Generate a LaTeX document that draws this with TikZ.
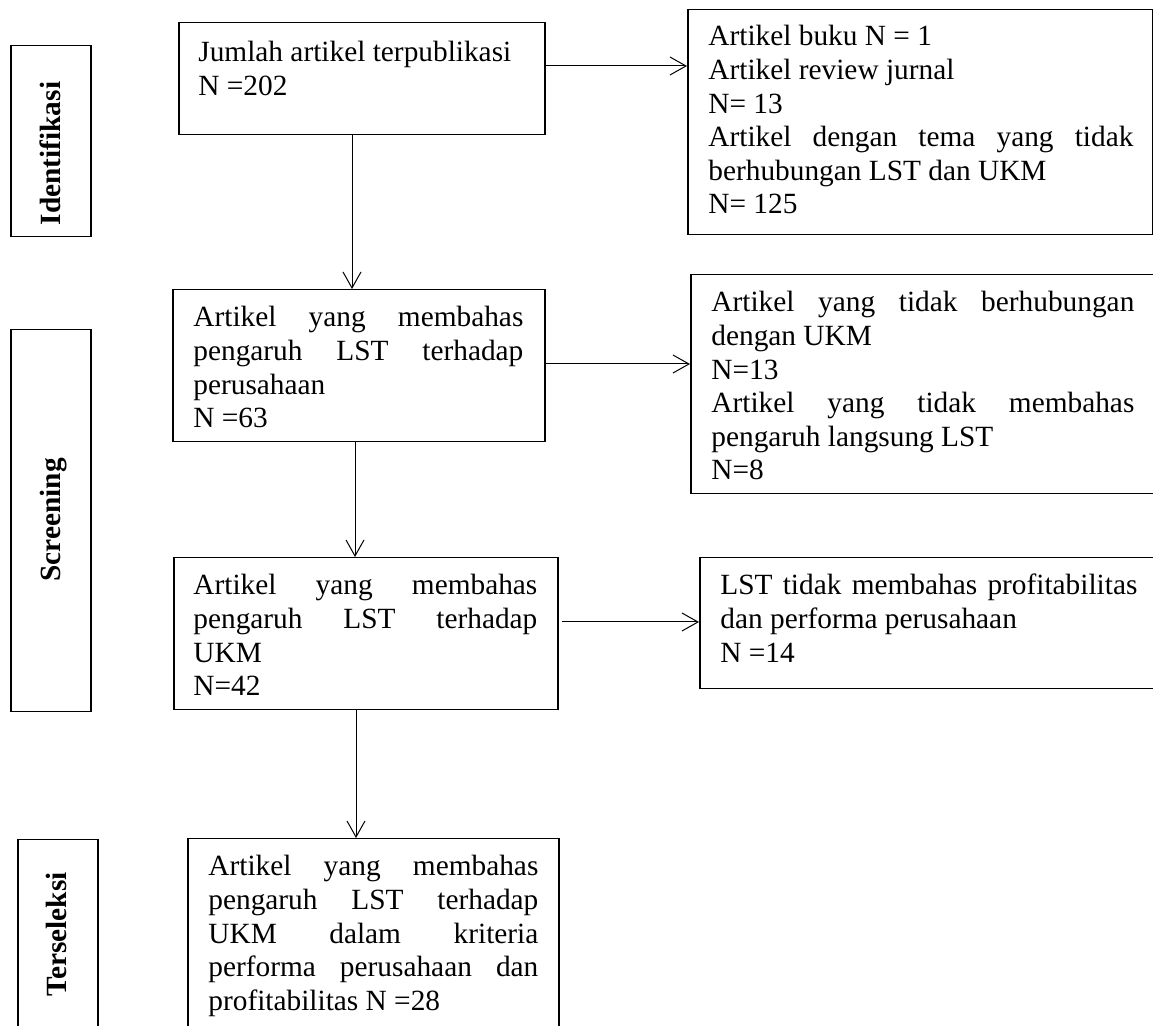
\documentclass[tikz,border=0pt]{standalone}
\usepackage{fontspec}
\setmainfont{Liberation Serif}
\usetikzlibrary{arrows.meta}
\tolerance=10000
\hbadness=10000
\hyphenpenalty=10000
\tikzset{
  boxnode/.style={draw, line width=0.75pt, inner sep=0pt, anchor=north west},
  txtnode/.style={inner sep=0pt, anchor=base west, align=justify, font=\fontsize{14.67pt}{16.8pt}\selectfont},
  sidelabel/.style={inner sep=0pt, anchor=base, rotate=90, font=\fontsize{14.67pt}{16.8pt}\selectfont\bfseries},
  arr/.style={line width=0.5pt, -{Straight Barb[length=8pt,width=9pt,line width=0.5pt]}}
}
\begin{document}
\begin{tikzpicture}[x=0.5pt,y=-0.5pt]
\useasboundingbox (0,0) rectangle (1153,1026);
% side boxes
\node[boxnode, minimum width=40pt, minimum height=95.5pt] (s1) at (10,45) {};
\node[boxnode, minimum width=40pt, minimum height=191pt] (s2) at (10,329) {};
\node[boxnode, minimum width=40pt, minimum height=100pt] (s3) at (17,839) {};
\node[sidelabel] (l1) at (61,153.5) {Identifikasi};
\node[sidelabel] (l2) at (61,520) {Screening};
\node[sidelabel] (l3) at (66,934.5) {Terseleksi};
% main boxes
\node[boxnode, minimum width=183pt, minimum height=56pt] (b1) at (178,22) {};
\node[boxnode, minimum width=232.5pt, minimum height=112.5pt] (b2) at (687,9) {};
\node[boxnode, minimum width=186pt, minimum height=76pt] (b3) at (172,289) {};
\node[boxnode, minimum width=240pt, minimum height=109.5pt] (b4) at (690,274) {};
\node[boxnode, minimum width=192pt, minimum height=76pt] (b5) at (173,557) {};
\node[boxnode, minimum width=235pt, minimum height=65.5pt] (b6) at (699,557) {};
\node[boxnode, minimum width=185.5pt, minimum height=100pt] (b7) at (187,838) {};
% texts
\node[txtnode, text width=170pt] (t1) at (198,62) {Jumlah artikel terpublikasi\par N =202};
\node[txtnode, text width=212.5pt] (t2) at (708,46) {Artikel buku N = 1\par Artikel review jurnal\par N= 13\par Artikel dengan tema yang tidak\linebreak berhubungan LST dan UKM\par N= 125};
\node[txtnode, text width=165pt] (t3) at (193,327) {Artikel yang membahas\linebreak pengaruh LST terhadap\linebreak perusahaan\par N =63};
\node[txtnode, text width=211.5pt] (t4) at (711,312) {Artikel yang tidak berhubungan\linebreak dengan UKM\par N=13\par Artikel yang tidak membahas\linebreak pengaruh langsung LST\par N=8};
\node[txtnode, text width=172pt] (t5) at (193,595) {Artikel yang membahas\linebreak pengaruh LST terhadap\linebreak UKM\par N=42};
\node[txtnode, text width=208.5pt] (t6) at (720,595) {LST tidak membahas profitabilitas\linebreak dan performa perusahaan\par N =14};
\node[txtnode, text width=165pt] (t7) at (208,876) {Artikel yang membahas\linebreak pengaruh LST terhadap\linebreak UKM dalam kriteria\linebreak performa perusahaan dan\linebreak profitabilitas N =28};
% connectors
\draw[arr] (b1.east |- 0,66) -- (b2.west |- 0,66);
\draw[arr] (b1.south -| 352,0) -- (b3.north -| 352,0);
\draw[arr] (b3.east |- 0,364) -- (b4.west |- 0,364);
\draw[arr] (b3.south -| 355,0) -- (b5.north -| 355,0);
\draw[arr] ([xshift=1.5pt]b5.east |- 0,622) -- (b6.west |- 0,622);
\draw[arr] (b5.south -| 356,0) -- (b7.north -| 356,0);
\end{tikzpicture}
\end{document}
